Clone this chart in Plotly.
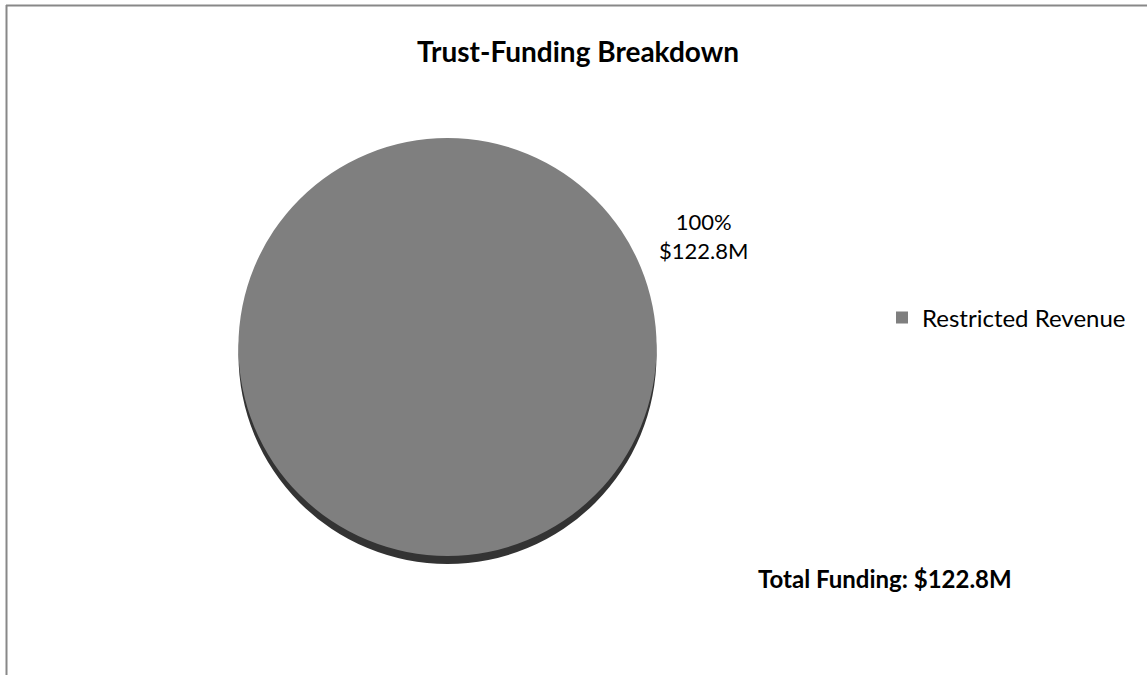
import plotly.graph_objects as go

# Funding data
categories = ["Restricted Revenue"]
amounts_musd = [122.8]
chart_title = "Trust-Funding Breakdown"

W, H = 1147, 675
FONT = "Lato, 'Open Sans', sans-serif"

total = sum(amounts_musd)
share_pct = [v / total * 100 for v in amounts_musd]


def px_domain(cx, cy, d):
    """Paper-coordinate domain for a pie of diameter d centred at pixel (cx, cy)."""
    r = d / 2
    return dict(x=[(cx - r) / W, (cx + r) / W],
                y=[1 - (cy + r) / H, 1 - (cy - r) / H])


PIE_CX, PIE_CY, PIE_D = 447.5, 347, 418
DEPTH = 8

fig = go.Figure()

# Side of the disc (gives the tilted, 3-D look)
fig.add_trace(go.Pie(
    labels=categories, values=amounts_musd,
    marker=dict(colors=["#333333"], line=dict(width=0)),
    textinfo="none", hoverinfo="skip", showlegend=False, sort=False,
    domain=px_domain(PIE_CX, PIE_CY + DEPTH, PIE_D),
))

# Top face
fig.add_trace(go.Pie(
    labels=categories, values=amounts_musd,
    marker=dict(colors=["#7f7f7f"], line=dict(width=0)),
    textinfo="none", hovertemplate="%{label}: $%{value}M<extra></extra>",
    showlegend=True, sort=False,
    domain=px_domain(PIE_CX, PIE_CY, PIE_D),
))

label_text = "<br>".join(
    [f"{share_pct[0]:.0f}%", f"${amounts_musd[0]:.1f}M"]
)

fig.update_layout(
    width=W, height=H,
    margin=dict(l=0, r=0, t=0, b=0),
    paper_bgcolor="white", plot_bgcolor="white",
    font=dict(family=FONT, color="#000000", size=22),
    title=dict(text=f"<b>{chart_title}</b>", x=578 / W, xanchor="center",
               y=1 - 52 / H, yanchor="middle",
               font=dict(family=FONT, size=28, color="#000000")),
    legend=dict(x=882 / W, y=1 - 318 / H, xanchor="left", yanchor="middle",
                font=dict(family=FONT, size=24, color="#000000"),
                bgcolor="rgba(0,0,0,0)", itemwidth=30),
    annotations=[
        dict(text=label_text, x=703 / W, y=1 - 236 / H, xref="paper", yref="paper",
             showarrow=False, align="center", xanchor="center", yanchor="middle",
             font=dict(family=FONT, size=22, color="#000000")),
        dict(text=f"<b>Total Funding: ${total:.1f}M</b>", x=885 / W, y=1 - 578 / H,
             xref="paper", yref="paper", showarrow=False,
             xanchor="center", yanchor="middle",
             font=dict(family=FONT, size=24, color="#000000")),
    ],
    shapes=[
        # chart frame: top and left edges
        dict(type="line", xref="paper", yref="paper",
             x0=6 / W, x1=1, y0=1 - 5.5 / H, y1=1 - 5.5 / H,
             line=dict(color="#888888", width=2)),
        dict(type="line", xref="paper", yref="paper",
             x0=6.5 / W, x1=6.5 / W, y0=0, y1=1 - 5 / H,
             line=dict(color="#888888", width=2)),
    ],
)

fig.write_html("out.html")
